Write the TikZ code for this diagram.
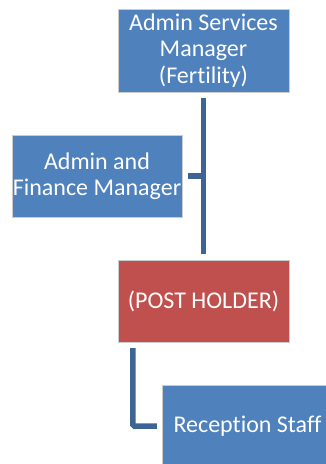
\documentclass[tikz,border=0pt]{standalone}
\usepackage{fontspec}
\setmainfont{Carlito}[Ligatures=NoCommon]
\usepackage{xcolor}
\definecolor{boxblue}{RGB}{79,129,189}
\definecolor{boxred}{RGB}{192,80,77}
\definecolor{lineblue}{RGB}{62,100,150}

\begin{document}
\begin{tikzpicture}[x=1pt, y=-1pt,
    post/.style={draw=white!80!black, line width=0.4pt, minimum width=171pt, minimum height=82pt,
      text=white, align=center, font=\fontsize{24}{26.5}\selectfont, inner sep=1pt},
    conn/.style={lineblue, line width=5.5pt}]
      \useasboundingbox (0,0) rectangle (325,464);

      \node[post, fill=boxblue, minimum height=83pt] (asm) at (203.5,50.5) {Admin Services\\Manager\\(Fertility)};
      \node[post, fill=boxblue, minimum width=170pt] (afm) at (97,176) {Admin and\\Finance Manager};
      \node[post, fill=boxred] (holder) at (203.5,301) {(POST HOLDER)};
      \node[post, fill=boxblue] (rec) at (247.5,426) {Reception Staff};

      \draw[conn] ([yshift=-6pt]asm.south) -- ([yshift=6pt]holder.north);
      \draw[conn] ([xshift=6pt]afm.east) -- (afm.east -| asm.south);
      \draw[conn, rounded corners=1.5pt] ([xshift=15pt, yshift=-6pt]holder.south west) |- ([xshift=-5pt]rec.west);
\end{tikzpicture}
\end{document}
